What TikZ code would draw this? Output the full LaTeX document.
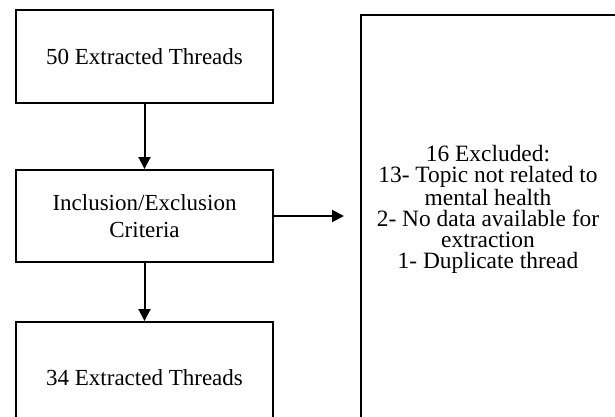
\documentclass[tikz,border=0pt]{standalone}
\usepackage{fontspec}
\setmainfont{Liberation Serif}
\usetikzlibrary{arrows.meta}

\begin{document}
\begin{tikzpicture}[x=0.5pt,y=-0.5pt,
        box/.style={draw,line width=1pt,align=center,inner sep=0pt,font=\fontsize{11.5}{13.3}\selectfont},
        exclabel/.style={align=center,inner sep=0pt,font=\fontsize{11.7}{10.5}\selectfont},
        arr/.style={line width=1pt,-{Triangle[length=6pt,width=6pt]}}]
        \useasboundingbox (0,0) rectangle (615,417);
        \clip (0,0) rectangle (615,417);

        \node[box,minimum width=128.5pt,minimum height=46.5pt] (thr50) at (144.5,56.5) {50 Extracted Threads};
        \node[box,minimum width=128.5pt,minimum height=46pt] (crit) at (144.5,216) {Inclusion/Exclusion\\Criteria};
        \node[box,minimum width=128.5pt,minimum height=56pt] (thr34) at (144.5,378) {34 Extracted Threads};
        \node[box,minimum width=132pt,minimum height=212.5pt] (exclbox) at (493,227.5) {};
        \node[exclabel] (excl) at (488,209) {16 Excluded:\\13- Topic not related to\\mental health\\2- No data available for\\extraction\\1- Duplicate thread};

        \path[draw,arr] (thr50) -- (crit);
        \path[draw,arr] (crit) -- (thr34);
        \path[draw,arr,shorten >=8pt] (crit.east) -- (crit.east -| exclbox.west);
    \end{tikzpicture}
\end{document}
